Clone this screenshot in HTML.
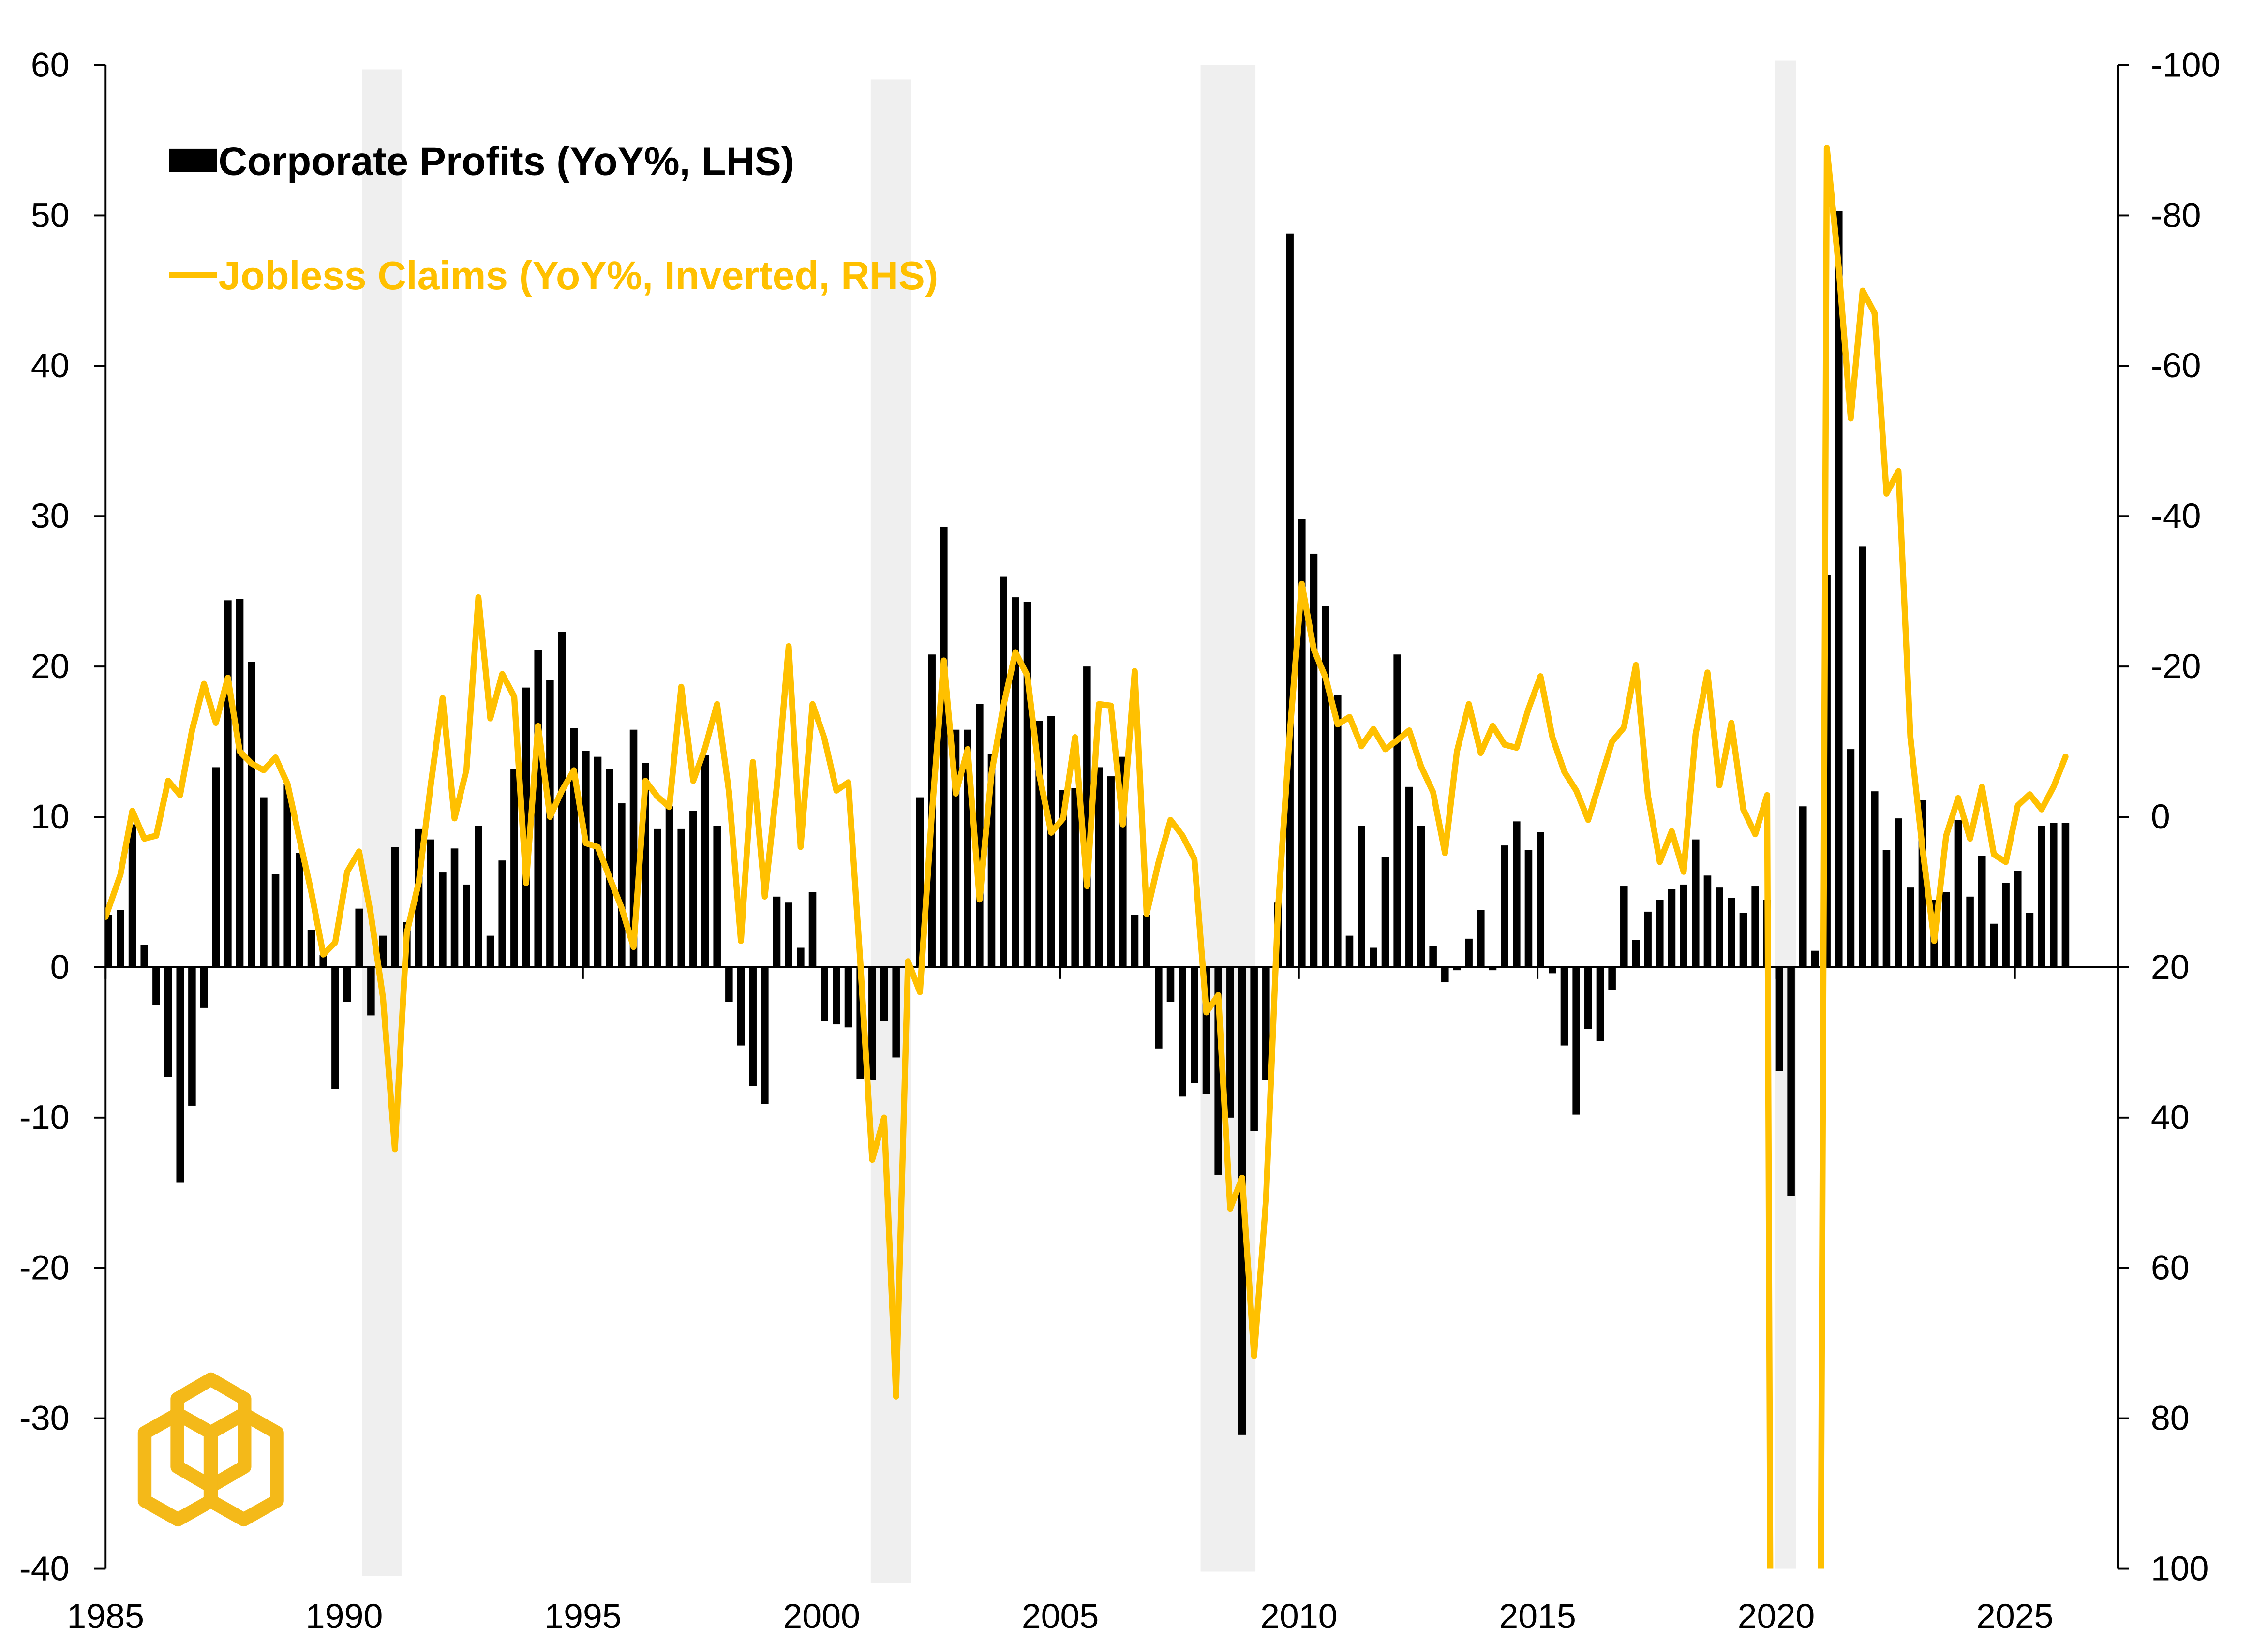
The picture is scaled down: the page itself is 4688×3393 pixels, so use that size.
<!DOCTYPE html>
<html><head><meta charset="utf-8"><style>
html,body{margin:0;padding:0;background:#fff;overflow:hidden;width:4688px;height:3393px;}
svg{display:block;}
text{font-family:"Liberation Sans",Arial,sans-serif;}
</style></head><body>
<svg id="chart" xmlns="http://www.w3.org/2000/svg" width="4688" height="3393" viewBox="0 0 1568 1135" preserveAspectRatio="none">
<defs><clipPath id="plotclip"><rect x="73" y="45" width="1391" height="1040"/></clipPath></defs>
<g id="shades"></g>
<g id="bars"></g>
<g id="axes"></g>
<g id="line" clip-path="url(#plotclip)"></g>
<g>
<rect x="117" y="103" width="33" height="16" fill="#000"/>
<text x="151" y="121" font-size="27.5" font-weight="bold" fill="#000">Corporate Profits (YoY%, LHS)</text>
<line x1="117" y1="190" x2="150" y2="190" stroke="#FFC000" stroke-width="4"/>
<text x="151" y="200" font-size="27.5" font-weight="bold" fill="#FFC000">Jobless Claims (YoY%, Inverted, RHS)</text>
</g>
<g fill="none" stroke="#F4B919" stroke-width="9.5" stroke-linejoin="round">
<polygon points="145.8,954 169,967.5 169,1014.5 145.8,1028 122.6,1014.5 122.6,967.5"/>
<polygon points="123,978 146,991 146,1038 123,1051 100,1038 100,991"/>
<polygon points="168.5,978 191.5,991 191.5,1038 168.5,1051 145.5,1038 145.5,991"/>
</g>
</svg>
<script>
const quarterStart = 1985;
const profits = [3.5,3.8,9.5,1.5,-2.5,-7.3,-14.3,-9.2,-2.7,13.3,24.4,24.5,20.3,11.3,6.2,12.2,7.6,2.5,0.8,-8.1,-2.3,3.9,-3.2,2.1,8.0,3.0,9.2,8.5,6.3,7.9,5.5,9.4,2.1,7.1,13.2,18.6,21.1,19.1,22.3,15.9,14.4,14.0,13.2,10.9,15.8,13.6,9.2,10.7,9.2,10.4,14.1,9.4,-2.3,-5.2,-7.9,-9.1,4.7,4.3,1.3,5.0,-3.6,-3.8,-4.0,-7.4,-7.5,-3.6,-6.0,0,11.3,20.8,29.3,15.8,15.8,17.5,14.2,26.0,24.6,24.3,16.4,16.7,11.8,11.9,20.0,13.3,12.7,14.0,3.5,3.5,-5.4,-2.3,-8.6,-7.7,-8.4,-13.8,-10.0,-31.1,-10.9,-7.5,4.3,48.8,29.8,27.5,24.0,18.1,2.1,9.4,1.3,7.3,20.8,12.0,9.4,1.4,-1.0,-0.2,1.9,3.8,-0.2,8.1,9.7,7.8,9.0,-0.4,-5.2,-9.8,-4.1,-4.9,-1.5,5.4,1.8,3.7,4.5,5.2,5.5,8.5,6.1,5.3,4.6,3.6,5.4,4.5,-6.9,-15.2,10.7,1.1,26.1,50.3,14.5,28.0,11.7,7.8,9.9,5.3,11.1,4.5,5.0,9.8,4.7,7.4,2.9,5.6,6.4,3.6,9.4,9.6,9.6];
const claims = [13.3,7.7,-0.8,2.9,2.5,-4.8,-2.9,-11.5,-17.7,-12.5,-18.5,-8.7,-7.1,-6.2,-7.9,-4.4,2.9,10,18.3,16.7,7.3,4.6,13.1,24,44.2,15.4,8.7,-4.2,-15.8,0.2,-6.3,-29.2,-13.1,-19,-16,8.8,-12.1,0,-3.5,-6.2,3.5,4,8.1,12.1,17.3,-4.8,-2.7,-1.3,-17.3,-4.8,-9.2,-15,-3.3,16.5,-7.3,10.6,-4,-22.7,4,-15,-10.4,-3.5,-4.6,19.2,45.6,40,77.1,19.2,23.3,-0.4,-20.8,-3.1,-9,11,-5.8,-14.8,-21.9,-18.8,-5.6,2.1,0.2,-10.6,9.2,-15,-14.8,1,-19.4,12.9,6,0.4,2.5,5.6,26,23.7,52.1,48,71.7,51,12.5,-11.3,-31,-22.3,-18.5,-12.3,-13.3,-9.4,-11.7,-9,-10.2,-11.5,-6.7,-3.3,4.8,-8.7,-15,-8.5,-12.1,-9.6,-9.2,-14.4,-18.7,-10.6,-6,-3.5,0.4,-4.8,-10,-11.9,-20.2,-2.9,6,1.9,7.3,-11,-19.2,-4.2,-12.5,-1,2.3,-2.9,400,600,600,290,-89,-73,-53,-70,-67,-43,-46,-10.6,4,16.5,2.5,-2.5,2.9,-4,5,6,-1.5,-3,-1,-4,-8];
const leftTicks = [60,50,40,30,20,10,0,-10,-20,-30,-40];
const rightTicks = [-100,-80,-60,-40,-20,0,20,40,60,80,100];
const yearTicks = [1985,1990,1995,2000,2005,2010,2015,2020,2025];
const recessionStarts = [1990.37,2001.03,2007.94,2019.97];
const recessionEnds = [1991.2,2001.88,2009.09,2020.42];

const NS="http://www.w3.org/2000/svg";
const X0=73,X1=1464,YT=45,YB=1085;
const xS=y=>X0+(y-1985)*33;
const yL=v=>YT+(60-v)/100*(YB-YT);
const yR=v=>YT+(v+100)/200*(YB-YT);
function mk(tag,attrs,parent){const e=document.createElementNS(NS,tag);for(const k in attrs)e.setAttribute(k,attrs[k]);parent.appendChild(e);return e;}

const shades=document.getElementById('shades');
const shadeTop=[48,55,45,42],shadeBot=[1090,1095,1087,1085];
recessionStarts.forEach((s,i)=>{
  const r=mk('rect',{x:xS(s),y:shadeTop[i],width:xS(recessionEnds[i])-xS(s),height:shadeBot[i]-shadeTop[i],fill:'#efefef'},shades);
  
  
});

const bars=document.getElementById('bars');
const bw=5.2;
profits.forEach((v,i)=>{
  const cx=xS(quarterStart+i/4)+2;
  const y0=yL(0),y1=yL(v);
  const r=mk('rect',{x:cx-bw/2,y:Math.min(y0,y1),width:bw,height:Math.abs(y1-y0),fill:'#000'},bars);
  
  
});

const axes=document.getElementById('axes');
mk('line',{x1:X0,y1:YT,x2:X0,y2:YB,stroke:'#000','stroke-width':1.3},axes);
mk('line',{x1:X1,y1:YT,x2:X1,y2:YB,stroke:'#000','stroke-width':1.3},axes);
mk('line',{x1:X0,y1:yL(0),x2:X1,y2:yL(0),stroke:'#000','stroke-width':1.3},axes);
leftTicks.forEach(v=>{
  mk('line',{x1:X0-8,y1:yL(v),x2:X0,y2:yL(v),stroke:'#000','stroke-width':1.3},axes);
  const t=mk('text',{x:48,y:yL(v)+8,'font-size':24,'text-anchor':'end',fill:'#000'},axes);
  t.textContent=v;
  
  
});
rightTicks.forEach(v=>{
  mk('line',{x1:X1,y1:yR(v),x2:X1+8,y2:yR(v),stroke:'#000','stroke-width':1.3},axes);
  const t=mk('text',{x:1487,y:yR(v)+8,'font-size':24,fill:'#000'},axes);
  t.textContent=v;
  
  
});
yearTicks.forEach(y=>{
  mk('line',{x1:xS(y),y1:yL(0),x2:xS(y),y2:yL(0)+8,stroke:'#000','stroke-width':1.3},axes);
  const t=mk('text',{x:xS(y),y:1126,'font-size':24,'text-anchor':'middle',fill:'#000'},axes);
  t.textContent=y;
  
  
});

const lineG=document.getElementById('line');
const pts=claims.map((v,i)=>(xS(quarterStart+i/4)+(i===0?0:2)).toFixed(2)+','+yR(v).toFixed(2)).join(' ');
const pl=mk('polyline',{points:pts,fill:'none',stroke:'#FFC000','stroke-width':4.2,'stroke-linejoin':'round','stroke-linecap':'round'},lineG);


</script>
</body></html>
